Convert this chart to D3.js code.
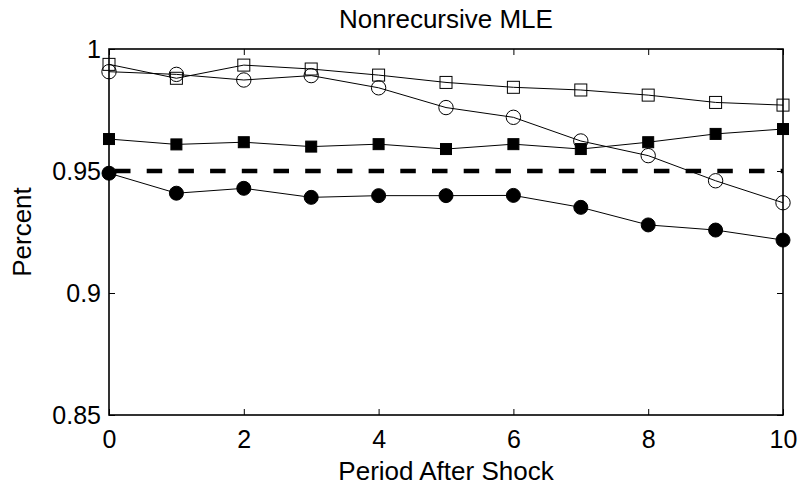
<!DOCTYPE html>
<html>
<head>
<meta charset="utf-8">
<script src="https://cdn.jsdelivr.net/npm/d3@7"></script>
<style>
  html, body { margin: 0; padding: 0; background: #fff; }
  svg { display: block; }
  text { font-family: "Liberation Sans", Arial, Helvetica, sans-serif; fill: #000; }
</style>
</head>
<body>
<svg id="chart" width="803" height="488"></svg>
<script>
// ---- data ----
const periods = [0, 1, 2, 3, 4, 5, 6, 7, 8, 9, 10];
const openSquares   = [0.9937, 0.9880, 0.9934, 0.9918, 0.9893, 0.9863, 0.9843, 0.9832, 0.9811, 0.9781, 0.9770];
const openCircles   = [0.9907, 0.9896, 0.9873, 0.9891, 0.9841, 0.9760, 0.9720, 0.9623, 0.9563, 0.9460, 0.9370];
const filledSquares = [0.9631, 0.9609, 0.9618, 0.9600, 0.9610, 0.9590, 0.9610, 0.9590, 0.9618, 0.9652, 0.9672];
const filledCircles = [0.9491, 0.9409, 0.9429, 0.9392, 0.9399, 0.9399, 0.9400, 0.9351, 0.9279, 0.9258, 0.9217];
const nominalLevel = 0.95;
const xTicks = [0, 2, 4, 6, 8, 10];
const yTicks = [0.85, 0.9, 0.95, 1];
const yTickLabels = ["0.85", "0.9", "0.95", "1"];
const titleText = "Nonrecursive MLE";
const xLabelText = "Period After Shock";
const yLabelText = "Percent";

// ---- layout ----
const W = 803, H = 488;
const margin = { left: 109, right: 20, top: 49, bottom: 73 };
const iw = W - margin.left - margin.right;
const ih = H - margin.top - margin.bottom;

const svg = d3.select("#chart");
const g = svg.append("g").attr("transform", `translate(${margin.left},${margin.top})`);

const x = d3.scaleLinear().domain([0, 10]).range([0, iw]);
const y = d3.scaleLinear().domain([0.85, 1]).range([ih, 0]);

const tickLen = 6;
const tickFont = "25px";
const labelFont = "26px";

// axes: bottom
const xAxisB = d3.axisBottom(x).tickValues(xTicks).tickSizeInner(-tickLen).tickSizeOuter(0).tickPadding(15).tickFormat(d3.format("d"));
const gxb = g.append("g").attr("transform", `translate(0,${ih})`).call(xAxisB);
gxb.selectAll("text").style("font-size", tickFont);
const xAxisT = d3.axisTop(x).tickValues(xTicks).tickSizeInner(-tickLen).tickSizeOuter(0).tickFormat("");
g.append("g").call(xAxisT);

const yAxisL = d3.axisLeft(y).tickValues(yTicks).tickSizeInner(-tickLen).tickSizeOuter(0).tickPadding(8)
  .tickFormat((d, i) => yTickLabels[i]);
const gyl = g.append("g").call(yAxisL);
gyl.selectAll("text").style("font-size", tickFont);
const yAxisR = d3.axisRight(y).tickValues(yTicks).tickSizeInner(-tickLen).tickSizeOuter(0).tickFormat("");
g.append("g").attr("transform", `translate(${iw},0)`).call(yAxisR);

g.selectAll(".domain").remove();
g.selectAll(".tick line").attr("stroke", "#000").attr("stroke-width", 1);

// box
g.append("rect").attr("x", 0).attr("y", 0).attr("width", iw).attr("height", ih)
  .attr("fill", "none").attr("stroke", "#000").attr("stroke-width", 1.6);

// nominal dashed line
g.append("line")
  .attr("x1", x(0)).attr("x2", x(10))
  .attr("y1", y(nominalLevel)).attr("y2", y(nominalLevel))
  .attr("stroke", "#000").attr("stroke-width", 4.5)
  .attr("stroke-dasharray", "15.5,16.2").attr("stroke-dashoffset", 25.7);

const line = d3.line().x((d, i) => x(periods[i])).y(d => y(d));

const series = [
  { values: openSquares, shape: "square", filled: false, size: 12 },
  { values: openCircles, shape: "circle", filled: false, size: 7.2 },
  { values: filledSquares, shape: "square", filled: true, size: 11 },
  { values: filledCircles, shape: "circle", filled: true, size: 7 }
];

series.forEach(s => {
  g.append("path").datum(s.values).attr("d", line)
    .attr("fill", "none").attr("stroke", "#000").attr("stroke-width", 1);
  const sel = g.append("g").selectAll(s.shape === "circle" ? "circle" : "rect")
    .data(s.values).enter();
  if (s.shape === "circle") {
    sel.append("circle")
      .attr("cx", (d, i) => x(periods[i])).attr("cy", d => y(d)).attr("r", s.size)
      .attr("fill", s.filled ? "#000" : "none").attr("stroke", "#000").attr("stroke-width", 1);
  } else {
    sel.append("rect")
      .attr("x", (d, i) => x(periods[i]) - s.size / 2).attr("y", d => y(d) - s.size / 2)
      .attr("width", s.size).attr("height", s.size)
      .attr("fill", s.filled ? "#000" : "none").attr("stroke", "#000").attr("stroke-width", 1);
  }
});

// title and labels
svg.append("text").attr("x", margin.left + iw / 2).attr("y", 28)
  .attr("text-anchor", "middle").style("font-size", labelFont).text(titleText);
svg.append("text").attr("x", margin.left + iw / 2).attr("y", 480)
  .attr("text-anchor", "middle").style("font-size", labelFont).text(xLabelText);
svg.append("text").attr("transform", `translate(31,${margin.top + ih / 2}) rotate(-90)`)
  .attr("text-anchor", "middle").style("font-size", labelFont).text(yLabelText);
</script>
</body>
</html>
